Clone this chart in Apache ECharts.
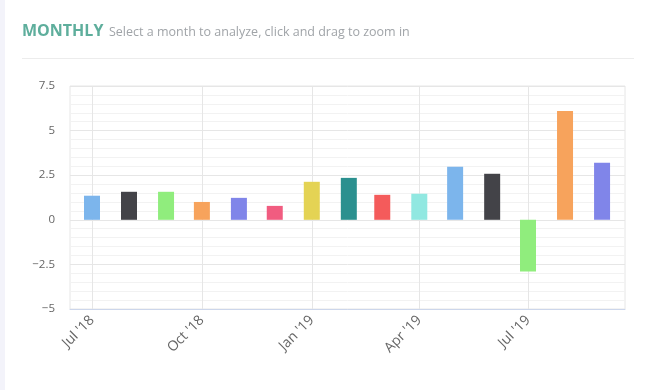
<!DOCTYPE html>
<html><head><meta charset="utf-8">
<script src="https://cdn.jsdelivr.net/npm/echarts@6/dist/echarts.min.js"></script>
<style>html,body{margin:0;padding:0;background:#fff;}#c{width:648px;height:390px;}</style>
</head><body><div id="c"></div>
<script>
const months = ['2018-07-01','2018-08-01','2018-09-01','2018-10-01','2018-11-01','2018-12-01','2019-01-01','2019-02-01','2019-03-01','2019-04-01','2019-05-01','2019-06-01','2019-07-01','2019-08-01','2019-09-01'];
const values = [1.35,1.57,1.57,1.0,1.23,0.78,2.13,2.35,1.4,1.46,2.97,2.58,-2.9,6.1,3.2];
const colors = ['#7cb5ec','#434348','#90ed7d','#f7a35c','#8085e9','#f15c80','#e4d354','#2b908f','#f45b5b','#91e8e1','#7cb5ec','#434348','#90ed7d','#f7a35c','#8085e9'];
const tickDates = ['2018-07-01','2018-10-01','2019-01-01','2019-04-01','2019-07-01'];
const yTicks = [-5,-2.5,0,2.5,5,7.5];
const monthNames = ['Jan','Feb','Mar','Apr','May','Jun','Jul','Aug','Sep','Oct','Nov','Dec'];
const titleText = 'MONTHLY';
const subtitleText = 'Select a month to analyze, click and drag to zoom in';

const day = 86400000;
// x values in days since epoch
const dnum = s => Date.UTC(+s.slice(0,4), +s.slice(5,7)-1, +s.slice(8,10)) / day;
const xMin = dnum('2018-07-01') - 18.4;
const xMax = dnum('2019-07-01') + 81.2;
const tickVals = tickDates.map(dnum);

const chart = echarts.init(document.getElementById('c'));
chart.setOption({
  animation:false,
  backgroundColor:'#fff',
  graphic:[
    {type:'rect', shape:{x:0,y:0,width:5,height:390}, style:{fill:'#f3f3fa'}, silent:true},
    {type:'rect', shape:{x:22,y:58,width:612,height:1}, style:{fill:'#ececec'}, silent:true},
    {type:'text', x:22, y:31, silent:true, style:{text:titleText, font:'bold 16px "Open Sans", sans-serif', fill:'#5eae9c', verticalAlign:'middle'}},
    {type:'text', x:109, y:32, silent:true, style:{text:subtitleText, font:'12.5px "Open Sans", sans-serif', fill:'#a0a4a8', verticalAlign:'middle'}}
  ],
  grid:{left:70, right:23, top:86, bottom:81, show:true, borderColor:'#e6e6e6', borderWidth:1},
  xAxis:{
    type:'value', min:xMin, max:xMax,
    axisLine:{show:true, onZero:false, lineStyle:{color:'#ccd6eb'}},
    axisTick:{show:false, customValues:tickVals},
    axisLabel:{customValues:tickVals, rotate:45, color:'#666', fontSize:14, fontFamily:'Open Sans, sans-serif', margin:9,
      formatter:function(v){const d=new Date(Math.round(v)*day);return monthNames[d.getUTCMonth()]+" '"+String(d.getUTCFullYear()).slice(2);}},
    splitLine:{show:true, lineStyle:{color:'#e6e6e6'}}
  },
  yAxis:{
    type:'value', min:-5, max:7.5, interval:2.5,
    axisLine:{show:false}, axisTick:{show:false},
    axisLabel:{color:'#666', fontSize:11.5, fontFamily:'Open Sans, sans-serif', margin:15,
      formatter:function(v){return String(v).replace('-','\u2212');}},
    splitLine:{lineStyle:{color:'#e6e6e6'}},
    minorTick:{show:false, splitNumber:5},
    minorSplitLine:{show:true, lineStyle:{color:'#f2f2f2'}}
  },
  series:[{
    type:'bar', barWidth:16,
    data: months.map((m,i)=>({value:[dnum(m), values[i]], itemStyle:{color:colors[i]}}))
  }]
});
</script></body></html>
